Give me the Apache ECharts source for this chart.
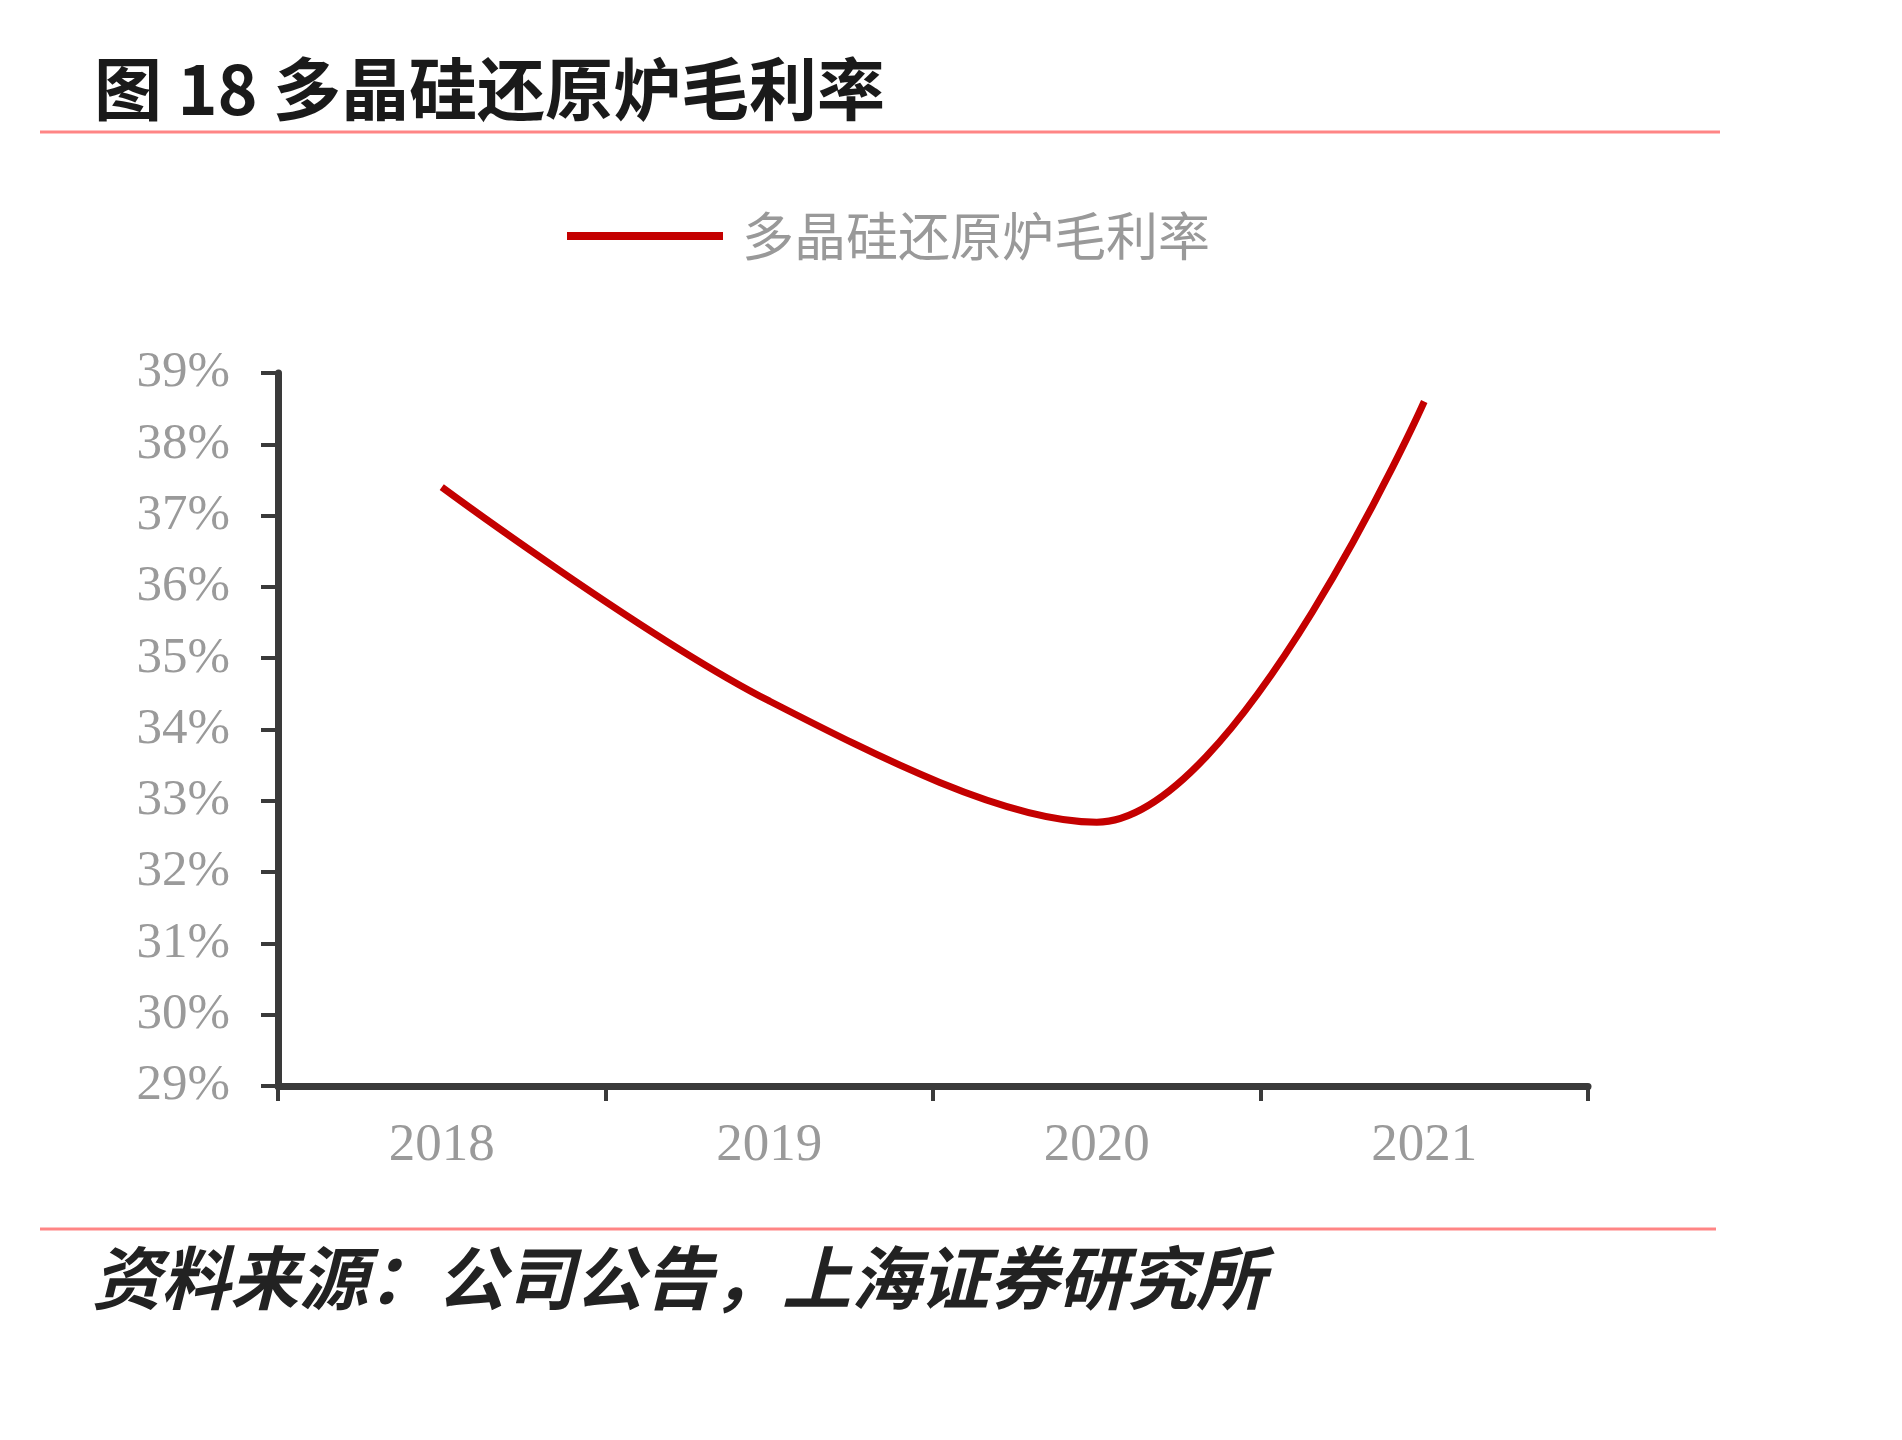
<!DOCTYPE html>
<html>
<head>
<meta charset="utf-8">
<title>多晶硅还原炉毛利率</title>
<script src="https://cdn.jsdelivr.net/npm/echarts@6/dist/echarts.min.js"></script>
<style>
  html, body { margin: 0; padding: 0; background: #fff; }
  #chart { width: 1902px; height: 1440px; }
</style>
</head>
<body>
<div id="chart"></div>
<script>
// 数据
const years = ['2018', '2019', '2020', '2021'];
const grossMargin = [37.4, 34.4, 32.7, 38.6];
const seriesName = '多晶硅还原炉毛利率';
const yTicks = { min: 29, max: 39, step: 1 };

const chart = echarts.init(document.getElementById('chart'));

const option = {
  backgroundColor: '#fff',
  animation: false,
  // 标题和来源，上下两条红线
  graphic: [
    {
      type: 'text', left: 94, top: 55,
      style: {
        text: '图 18 多晶硅还原炉毛利率',
        font: 'bold 68px "Noto Sans CJK SC"',
        fill: '#1a1a1a'
      }
    },
    {
      type: 'line',
      shape: { x1: 40, y1: 132, x2: 1720, y2: 132 },
      style: { stroke: '#ff8585', lineWidth: 3 }
    },
    {
      type: 'line',
      shape: { x1: 40, y1: 1229, x2: 1716, y2: 1229 },
      style: { stroke: '#ff8585', lineWidth: 3 }
    },
    {
      type: 'text', left: 92, top: 1243,
      style: {
        text: '资料来源：公司公告，上海证券研究所',
        font: 'italic bold 69px "Noto Sans CJK SC"',
        fill: '#222'
      }
    }
  ],
  legend: {
    left: 562,
    top: 205,
    icon: 'rect',
    itemWidth: 156,
    itemHeight: 8,
    textStyle: {
      fontFamily: '"Noto Sans CJK SC"',
      fontSize: 52,
      color: '#999',
      padding: [0, 0, 0, 14]
    },
    data: [seriesName]
  },
  grid: {
    left: 278,
    right: 314,
    top: 373,
    bottom: 354,
    containLabel: false
  },
  xAxis: {
    type: 'category',
    data: years,
    boundaryGap: true,
    axisLine: { lineStyle: { color: '#3a3a3a', width: 7 } },
    axisTick: { show: true, inside: false, length: 15, lineStyle: { color: '#3a3a3a', width: 4 } },
    axisLabel: {
      margin: 34,
      fontFamily: '"Liberation Serif"',
      fontSize: 53,
      color: '#9a9a9a'
    },
    splitLine: { show: false }
  },
  yAxis: {
    type: 'value',
    min: yTicks.min,
    max: yTicks.max,
    interval: yTicks.step,
    axisLine: { show: true, lineStyle: { color: '#3a3a3a', width: 7 } },
    axisTick: { show: true, inside: false, length: 17, lineStyle: { color: '#3a3a3a', width: 4 } },
    axisLabel: {
      margin: 48,
      formatter: '{value}%',
      fontFamily: '"Liberation Serif"',
      fontSize: 51,
      color: '#9a9a9a'
    },
    splitLine: { show: false }
  },
  series: [
    {
      name: seriesName,
      type: 'line',
      data: grossMargin,
      smooth: 0.35,
      showSymbol: false,
      symbol: 'none',
      itemStyle: { color: '#c40000' },
      lineStyle: { color: '#c40000', width: 7 }
    }
  ]
};

chart.setOption(option);
</script>
</body>
</html>
